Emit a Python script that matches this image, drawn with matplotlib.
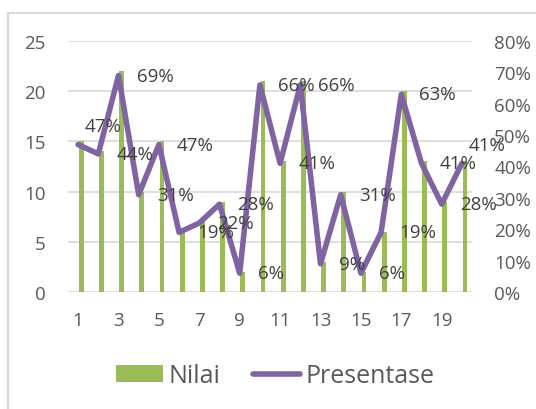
"""Nilai (bars) vs Presentase (line), dual axis"""
import matplotlib.pyplot as plt
from matplotlib.patches import Rectangle
from matplotlib.ticker import PercentFormatter

plt.rcParams["font.family"] = ["Open Sans", "DejaVu Sans"]

categories = list(range(1, 21))
nilai = [15, 14, 22, 10, 15, 6, 7, 9, 2, 21, 13, 21, 3, 10, 2, 6, 20, 13, 9, 13]
presentase = [0.47, 0.44, 0.69, 0.31, 0.47, 0.19, 0.22, 0.28, 0.06, 0.66,
              0.41, 0.66, 0.09, 0.31, 0.06, 0.19, 0.63, 0.41, 0.28, 0.41]
tick_labels = [str(c) for c in categories[::2]]

GREEN = "#9BBB59"
PURPLE = "#8064A2"
AXIS_TXT = "#595959"
LABEL_TXT = "#404040"
GRID = "#D9D9D9"

fig = plt.figure(figsize=(5.36, 4.10), dpi=100)
fig.patches.append(Rectangle((8 / 536, -0.1), 1.2, 1.1 - 14 / 410,
                             transform=fig.transFigure, fill=False,
                             edgecolor=GRID, linewidth=1.5))
ax = fig.add_axes([68 / 536, 1 - 293 / 410, 404 / 536, 251 / 410])
ax2 = ax.twinx()

x = list(range(len(categories)))
ax.bar([i + 0.15 for i in x], nilai, width=0.24, color=GREEN, label="Nilai", zorder=2)
ax2.plot(x, presentase, color=PURPLE, lw=4, solid_joinstyle="round",
         solid_capstyle="round", label="Presentase", zorder=3)

ax.set_xlim(-0.5, len(categories) - 0.5)
ax.set_ylim(0, 25)
ax.set_yticks(range(0, 26, 5))
ax2.set_ylim(0, 0.8)
ax2.set_yticks([i / 10 for i in range(9)])
ax2.yaxis.set_major_formatter(PercentFormatter(1.0, decimals=0))
ax.set_xticks(x[::2])
ax.set_xticklabels(tick_labels)

ax.grid(axis="y", color=GRID, lw=1.2, zorder=0)
ax.set_axisbelow(True)
for a in (ax, ax2):
    for s in a.spines.values():
        s.set_visible(False)
    a.tick_params(length=0, labelsize=13.5, colors=AXIS_TXT)
ax.tick_params(axis="y", pad=16)
ax2.tick_params(axis="y", pad=16)
ax.tick_params(axis="x", pad=14)

for i, p in enumerate(presentase):
    off = (5, 13) if i in (0, len(presentase) - 1) else (13, 0)
    ax2.annotate(f"{round(p * 100)}%", (i, p), xytext=off, textcoords="offset points",
                 ha="left", va="center", fontsize=13.5, color=LABEL_TXT, zorder=4)

h1, l1 = ax.get_legend_handles_labels()
h2, l2 = ax2.get_legend_handles_labels()
leg = fig.legend(h1 + h2, l1 + l2, loc="center", bbox_to_anchor=(275 / 536, 1 - 377 / 410),
                 ncol=2, frameon=False, fontsize=18, handlelength=1.9, handleheight=0.65,
                 handletextpad=0.2, columnspacing=1.3, labelcolor=AXIS_TXT)

fig.savefig("out.png", dpi=100)
